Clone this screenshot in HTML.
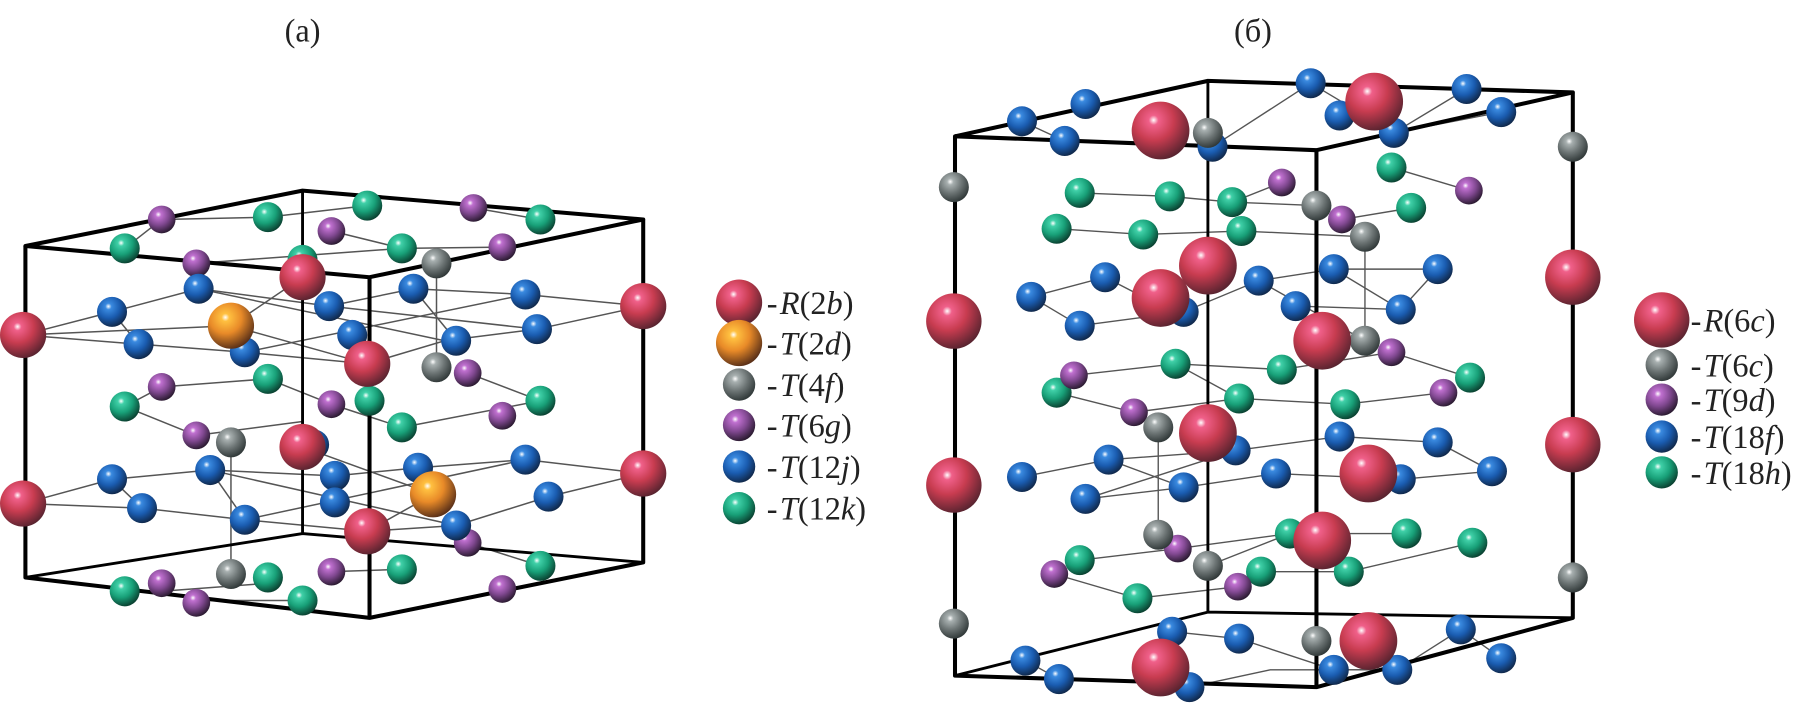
<!DOCTYPE html>
<html><head><meta charset="utf-8"><style>
html,body{margin:0;padding:0;background:#fff;}
svg{display:block;}
text{font-family:"Liberation Serif",serif;fill:#222;}
</style></head><body>
<svg width="1813" height="708" viewBox="0 0 1570 613" xmlns="http://www.w3.org/2000/svg">
<defs>
<radialGradient id="gR" cx="0.38" cy="0.32" r="0.7"><stop offset="0" stop-color="#fff"/><stop offset="0.12" stop-color="#f0608a"/><stop offset="0.5" stop-color="#c83c50"/><stop offset="1" stop-color="#5a2430"/></radialGradient>
<radialGradient id="gO" cx="0.38" cy="0.32" r="0.7"><stop offset="0" stop-color="#fff"/><stop offset="0.12" stop-color="#ffc040"/><stop offset="0.5" stop-color="#e88a28"/><stop offset="1" stop-color="#5a3018"/></radialGradient>
<radialGradient id="gG" cx="0.38" cy="0.32" r="0.7"><stop offset="0" stop-color="#fff"/><stop offset="0.15" stop-color="#a8b0b0"/><stop offset="0.55" stop-color="#6c7474"/><stop offset="1" stop-color="#303838"/></radialGradient>
<radialGradient id="gP" cx="0.38" cy="0.32" r="0.7"><stop offset="0" stop-color="#fff"/><stop offset="0.15" stop-color="#c070d0"/><stop offset="0.55" stop-color="#804890"/><stop offset="1" stop-color="#2a1a30"/></radialGradient>
<radialGradient id="gB" cx="0.38" cy="0.32" r="0.7"><stop offset="0" stop-color="#fff"/><stop offset="0.15" stop-color="#3a8ae0"/><stop offset="0.55" stop-color="#1a5cb0"/><stop offset="1" stop-color="#10284a"/></radialGradient>
<radialGradient id="gT" cx="0.38" cy="0.32" r="0.7"><stop offset="0" stop-color="#fff"/><stop offset="0.15" stop-color="#40d0a8"/><stop offset="0.55" stop-color="#18a078"/><stop offset="1" stop-color="#0a4030"/></radialGradient>
</defs>

<text x="262" y="36" font-size="28" text-anchor="middle">(а)</text>
<text x="1085" y="36" font-size="28" text-anchor="middle">(б)</text>

<!-- LEFT bonds -->
<g stroke="#555" stroke-width="1.3" fill="none">
<path d="M20 290 L97 270 L172 250 L285 265 L358 250 L455 255 L557 265"/>
<path d="M20 290 L120 298 L212 305 L318 315 L385 295 L465 285 L557 265"/>
<path d="M20 290 L200 282 L318 315"/><path d="M97 270 L120 298"/><path d="M200 282 L262 240"/>
<path d="M172 250 L385 295"/><path d="M212 305 L455 255"/><path d="M285 265 L465 285"/>
<path d="M20 436 L97 415 L182 407 L290 412 L362 405 L455 398 L557 410"/>
<path d="M20 436 L123 440 L212 450 L318 460 L395 455 L475 430 L557 410"/>
<path d="M182 407 L395 455"/><path d="M212 450 L455 398"/><path d="M262 387 L375 428 L318 460"/><path d="M97 415 L123 440"/>
<path d="M378 228 L378 318"/><path d="M200 383 L200 497"/><path d="M358 250 L395 295"/><path d="M182 407 L212 450"/>
<path d="M140 190 L232 188 L318 178"/><path d="M108 215 L140 190"/><path d="M170 228 L348 215"/><path d="M287 200 L348 215 L435 214"/>
<path d="M410 180 L468 190"/><path d="M108 352 L140 335"/><path d="M140 335 L232 328"/><path d="M232 328 L287 350"/><path d="M108 352 L170 377"/>
<path d="M170 377 L262 365"/><path d="M348 370 L468 347"/><path d="M405 323 L468 347"/><path d="M287 350 L348 370"/>
<path d="M140 512 L232 505"/><path d="M287 495 L348 493"/><path d="M405 470 L468 490"/><path d="M170 520 L262 520"/>
</g>
<!-- LEFT box -->
<g stroke="#000" stroke-width="3.5" fill="none" stroke-linejoin="round">
<path d="M22 213 L262 165 L557 190 L320 240 Z"/>
<path d="M22 213 L22 500 L320 535 L557 487 L557 190"/>
<path d="M320 240 L320 535"/>
<path d="M262 165 L262 462 L22 500 M262 462 L557 487" stroke-width="2.5"/>
</g>
<!-- LEFT spheres -->
<g>
<g fill="url(#gT)">
<circle cx="108" cy="215" r="13"/><circle cx="232" cy="188" r="13"/><circle cx="318" cy="178" r="13"/><circle cx="348" cy="215" r="13"/><circle cx="468" cy="190" r="13"/><circle cx="262" cy="225" r="13"/>
<circle cx="108" cy="352" r="13"/><circle cx="232" cy="328" r="13"/><circle cx="348" cy="370" r="13"/><circle cx="468" cy="347" r="13"/><circle cx="320" cy="347" r="13"/>
<circle cx="108" cy="512" r="13"/><circle cx="232" cy="500" r="13"/><circle cx="262" cy="520" r="13"/><circle cx="348" cy="493" r="13"/><circle cx="468" cy="490" r="13"/>
</g>
<g fill="url(#gP)">
<circle cx="140" cy="190" r="12"/><circle cx="170" cy="228" r="12"/><circle cx="287" cy="200" r="12"/><circle cx="410" cy="180" r="12"/><circle cx="435" cy="214" r="12"/>
<circle cx="140" cy="335" r="12"/><circle cx="170" cy="377" r="12"/><circle cx="287" cy="350" r="12"/><circle cx="405" cy="323" r="12"/><circle cx="435" cy="360" r="12"/>
<circle cx="140" cy="505" r="12"/><circle cx="170" cy="522" r="12"/><circle cx="287" cy="495" r="12"/><circle cx="405" cy="470" r="12"/><circle cx="435" cy="510" r="12"/>
</g>
<g fill="url(#gB)">
<circle cx="97" cy="270" r="13"/><circle cx="172" cy="250" r="13"/><circle cx="120" cy="298" r="13"/><circle cx="212" cy="305" r="13"/><circle cx="285" cy="265" r="13"/><circle cx="305" cy="290" r="13"/><circle cx="358" cy="250" r="13"/><circle cx="395" cy="295" r="13"/><circle cx="455" cy="255" r="13"/><circle cx="465" cy="285" r="13"/>
<circle cx="97" cy="415" r="13"/><circle cx="123" cy="440" r="13"/><circle cx="182" cy="407" r="13"/><circle cx="212" cy="450" r="13"/><circle cx="272" cy="385" r="13"/><circle cx="290" cy="412" r="13"/><circle cx="290" cy="435" r="13"/><circle cx="362" cy="405" r="13"/><circle cx="395" cy="455" r="13"/><circle cx="455" cy="398" r="13"/><circle cx="475" cy="430" r="13"/>
</g>
<g fill="url(#gG)">
<circle cx="378" cy="228" r="13"/><circle cx="378" cy="318" r="13"/><circle cx="200" cy="383" r="13"/><circle cx="200" cy="497" r="13"/>
</g>
<g fill="url(#gO)"><circle cx="200" cy="282" r="20"/><circle cx="375" cy="428" r="20"/></g>
<g fill="url(#gR)">
<circle cx="20" cy="290" r="20"/><circle cx="20" cy="436" r="20"/><circle cx="262" cy="240" r="20"/><circle cx="318" cy="315" r="20"/><circle cx="262" cy="387" r="20"/><circle cx="318" cy="460" r="20"/><circle cx="557" cy="265" r="20"/><circle cx="557" cy="410" r="20"/>
</g>
</g>
<!-- LEFT legend -->
<g>
<circle cx="640" cy="262" r="20" fill="url(#gR)"/>
<circle cx="640" cy="297" r="20" fill="url(#gO)"/>
<circle cx="640" cy="333" r="14" fill="url(#gG)"/>
<circle cx="640" cy="368" r="14" fill="url(#gP)"/>
<circle cx="640" cy="404" r="14" fill="url(#gB)"/>
<circle cx="640" cy="440" r="14" fill="url(#gT)"/>
<g font-size="28">
<text x="664" y="272">-<tspan font-style="italic" dx="2">R</tspan>(2<tspan font-style="italic">b</tspan>)</text>
<text x="664" y="307">-<tspan font-style="italic" dx="2">T</tspan>(2<tspan font-style="italic">d</tspan>)</text>
<text x="664" y="343">-<tspan font-style="italic" dx="2">T</tspan>(4<tspan font-style="italic">f</tspan>)</text>
<text x="664" y="378">-<tspan font-style="italic" dx="2">T</tspan>(6<tspan font-style="italic">g</tspan>)</text>
<text x="664" y="414">-<tspan font-style="italic" dx="2">T</tspan>(12<tspan font-style="italic">j</tspan>)</text>
<text x="664" y="450">-<tspan font-style="italic" dx="2">T</tspan>(12<tspan font-style="italic">k</tspan>)</text>
</g>
</g>

<!-- RIGHT bonds -->
<g stroke="#555" stroke-width="1.2" fill="none">
<path d="M885 105 L922 122"/><path d="M1050 127 L1135 72"/><path d="M1135 72 L1207 115 L1270 77"/><path d="M1207 115 L1300 97"/>
<path d="M935 167 L1013 170 L1067 175 L1110 158"/><path d="M915 198 L990 203 L1075 200 L1182 205"/><path d="M1067 175 L1140 178"/><path d="M1162 190 L1222 180"/><path d="M1205 145 L1272 165"/>
<path d="M893 257 L957 240 L1015 270"/><path d="M935 282 L1025 270 L1090 243 L1155 233 L1245 233"/><path d="M1122 265 L1213 268 L1245 233"/><path d="M1155 233 L1213 268"/><path d="M1090 243 L1182 295"/><path d="M893 257 L935 282"/>
<path d="M1182 205 L1182 295"/><path d="M930 325 L1018 315 L1110 320 L1205 305"/><path d="M915 340 L982 357 L1073 345 L1165 350 L1250 340"/><path d="M1205 305 L1273 327"/><path d="M1018 315 L1073 345"/>
<path d="M885 413 L960 398 L1070 390 L1160 378 L1245 383 L1292 408"/><path d="M940 432 L1025 422 L1105 410 L1213 415 L1292 408"/><path d="M960 398 L1025 422"/><path d="M940 432 L1070 390"/><path d="M1003 370 L1003 463"/>
<path d="M913 497 L985 518 L1072 508 L1092 495 L1168 495 L1275 470"/><path d="M935 485 L1020 475 L1117 462 L1218 462"/><path d="M1046 490 L1117 462"/>
<path d="M888 572 L917 588"/><path d="M1015 547 L1073 553 L1155 580 L1210 580 L1265 545 L1300 570"/><path d="M1030 595 L1100 580 L1210 580"/>
</g>
<!-- RIGHT box -->
<g stroke="#000" stroke-width="3.5" fill="none" stroke-linejoin="round">
<path d="M827 118 L1046 70 L1362 80 L1140 130 Z"/>
<path d="M827 118 L827 585 L1140 595 L1362 535 L1362 80"/>
<path d="M1140 130 L1140 595"/>
<path d="M1046 70 L1046 530 L827 585 M1046 530 L1362 535" stroke-width="2.5"/>
</g>
<!-- RIGHT spheres -->
<g>
<g fill="url(#gT)">
<circle cx="935" cy="167" r="13"/><circle cx="1013" cy="170" r="13"/><circle cx="1067" cy="175" r="13"/><circle cx="915" cy="198" r="13"/><circle cx="990" cy="203" r="13"/><circle cx="1075" cy="200" r="13"/><circle cx="1205" cy="145" r="13"/><circle cx="1222" cy="180" r="13"/>
<circle cx="1018" cy="315" r="13"/><circle cx="1073" cy="345" r="13"/><circle cx="1110" cy="320" r="13"/><circle cx="1165" cy="350" r="13"/><circle cx="1273" cy="327" r="13"/><circle cx="915" cy="340" r="13"/>
<circle cx="935" cy="485" r="13"/><circle cx="985" cy="518" r="13"/><circle cx="1092" cy="495" r="13"/><circle cx="1117" cy="462" r="13"/><circle cx="1168" cy="495" r="13"/><circle cx="1218" cy="462" r="13"/><circle cx="1275" cy="470" r="13"/>
</g>
<g fill="url(#gP)">
<circle cx="1110" cy="158" r="12"/><circle cx="1162" cy="190" r="12"/><circle cx="1272" cy="165" r="12"/><circle cx="930" cy="325" r="12"/><circle cx="982" cy="357" r="12"/><circle cx="1205" cy="305" r="12"/><circle cx="1250" cy="340" r="12"/><circle cx="913" cy="497" r="12"/><circle cx="1020" cy="475" r="12"/><circle cx="1072" cy="508" r="12"/>
</g>
<g fill="url(#gB)">
<circle cx="885" cy="105" r="13"/><circle cx="922" cy="122" r="13"/><circle cx="940" cy="90" r="13"/><circle cx="1050" cy="127" r="13"/><circle cx="1135" cy="72" r="13"/><circle cx="1207" cy="115" r="13"/><circle cx="1270" cy="77" r="13"/><circle cx="1300" cy="97" r="13"/><circle cx="1160" cy="100" r="13"/>
<circle cx="893" cy="257" r="13"/><circle cx="957" cy="240" r="13"/><circle cx="935" cy="282" r="13"/><circle cx="1025" cy="270" r="13"/><circle cx="1090" cy="243" r="13"/><circle cx="1155" cy="233" r="13"/><circle cx="1122" cy="265" r="13"/><circle cx="1245" cy="233" r="13"/><circle cx="1213" cy="268" r="13"/>
<circle cx="885" cy="413" r="13"/><circle cx="960" cy="398" r="13"/><circle cx="940" cy="432" r="13"/><circle cx="1025" cy="422" r="13"/><circle cx="1070" cy="390" r="13"/><circle cx="1105" cy="410" r="13"/><circle cx="1160" cy="378" r="13"/><circle cx="1245" cy="383" r="13"/><circle cx="1292" cy="408" r="13"/><circle cx="1213" cy="415" r="13"/>
<circle cx="888" cy="572" r="13"/><circle cx="917" cy="588" r="13"/><circle cx="1015" cy="547" r="13"/><circle cx="1073" cy="553" r="13"/><circle cx="1030" cy="595" r="13"/><circle cx="1155" cy="580" r="13"/><circle cx="1210" cy="580" r="13"/><circle cx="1265" cy="545" r="13"/><circle cx="1300" cy="570" r="13"/>
</g>
<g fill="url(#gG)">
<circle cx="826" cy="162" r="13"/><circle cx="826" cy="540" r="13"/><circle cx="1046" cy="115" r="13"/><circle cx="1140" cy="178" r="13"/><circle cx="1182" cy="205" r="13"/><circle cx="1182" cy="295" r="13"/><circle cx="1003" cy="370" r="13"/><circle cx="1003" cy="463" r="13"/><circle cx="1046" cy="490" r="13"/><circle cx="1140" cy="555" r="13"/><circle cx="1362" cy="127" r="13"/><circle cx="1362" cy="500" r="13"/>
</g>
<g fill="url(#gR)">
<circle cx="1005" cy="113" r="25"/><circle cx="1190" cy="88" r="25"/><circle cx="1046" cy="230" r="25"/><circle cx="1005" cy="258" r="25"/><circle cx="1145" cy="295" r="25"/><circle cx="1046" cy="375" r="25"/><circle cx="1185" cy="410" r="25"/><circle cx="1145" cy="468" r="25"/><circle cx="1185" cy="555" r="25"/><circle cx="1005" cy="578" r="25"/>
<circle cx="826" cy="278" r="24"/><circle cx="826" cy="420" r="24"/><circle cx="1362" cy="240" r="24"/><circle cx="1362" cy="385" r="24"/>
</g>
</g>
<!-- RIGHT legend -->
<g>
<circle cx="1439" cy="277" r="24" fill="url(#gR)"/>
<circle cx="1439" cy="316" r="14" fill="url(#gG)"/>
<circle cx="1439" cy="346" r="14" fill="url(#gP)"/>
<circle cx="1439" cy="378" r="14" fill="url(#gB)"/>
<circle cx="1439" cy="409" r="14" fill="url(#gT)"/>
<g font-size="28">
<text x="1464" y="287">-<tspan font-style="italic" dx="2">R</tspan>(6<tspan font-style="italic">c</tspan>)</text>
<text x="1464" y="326">-<tspan font-style="italic" dx="2">T</tspan>(6<tspan font-style="italic">c</tspan>)</text>
<text x="1464" y="356">-<tspan font-style="italic" dx="2">T</tspan>(9<tspan font-style="italic">d</tspan>)</text>
<text x="1464" y="388">-<tspan font-style="italic" dx="2">T</tspan>(18<tspan font-style="italic">f</tspan>)</text>
<text x="1464" y="419">-<tspan font-style="italic" dx="2">T</tspan>(18<tspan font-style="italic">h</tspan>)</text>
</g>
</g>
</svg>
</body></html>
